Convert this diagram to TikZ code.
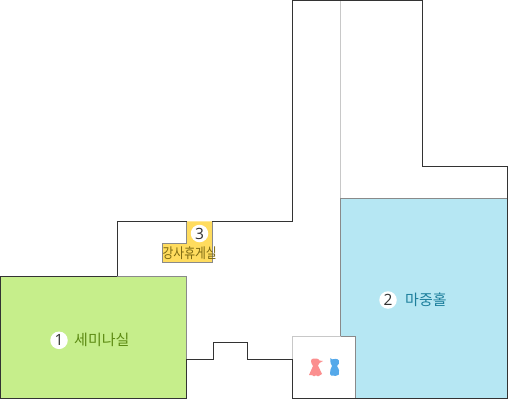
\documentclass[tikz,border=0pt]{standalone}
\usepackage{fontspec}
\setmainfont{Open Sans}
\newfontfamily\krfont{Noto Sans CJK KR}
\definecolor{wallc}{HTML}{333333}
\definecolor{edgec}{HTML}{8A8A8A}
\definecolor{lightedge}{HTML}{C8C8C8}
\definecolor{greenroom}{HTML}{C6EE8B}
\definecolor{blueroom}{HTML}{B6E7F3}
\definecolor{yellowroom}{HTML}{FFDC5E}
\definecolor{greentext}{HTML}{5C8A12}
\definecolor{bluetext}{HTML}{1D7F9C}
\definecolor{yellowtext}{HTML}{7D6A12}
\definecolor{pinkicon}{HTML}{FB8F8F}
\definecolor{blueicon}{HTML}{55A9EA}
\tikzset{
  wall/.style={draw=wallc,line width=1pt,line join=miter},
  badge/.style={circle,fill=white,inner sep=0pt,minimum size=17.5pt,text=wallc,font=\fontsize{15.5}{15.5}\selectfont},
  roomlabel/.style={inner sep=0pt,font=\krfont\fontsize{15}{15}\selectfont}
}
\begin{document}
\begin{tikzpicture}[x=1pt,y=-1pt]
\useasboundingbox (0,0) rectangle (508,400);
\fill[white] (0,0) rectangle (508,400);
% rooms
\fill[greenroom] (0.5,276.3) rectangle (186.5,398.4);
\fill[blueroom] (340.5,198.3) rectangle (507.5,398.4);
\fill[white] (292.5,336.3) rectangle (355.5,398.4);
\fill[yellowroom] (186.5,221.3) -- (212.3,221.3) -- (212.3,262.3) -- (162.7,262.3) -- (162.7,243.3) -- (186.5,243.3) -- cycle;
% inner edges
\draw[lightedge,line width=1pt] (340.5,0.5) -- (340.5,198.3);
\draw[edgec,line width=1pt] (340.5,336.3) -- (340.5,198.3) -- (507.5,198.3);
\draw[edgec,line width=1pt] (117.3,276.3) -- (186.5,276.3) -- (186.5,359.3);
\draw[edgec,line width=1pt] (186.5,221.3) -- (186.5,243.3) -- (162.7,243.3) -- (162.7,262.3) -- (212.3,262.3) -- (212.3,221.3);
\draw[lightedge,line width=1pt] (292.5,359.3) -- (292.5,336.3) -- (340.5,336.3);
\draw[edgec,line width=1pt] (340.5,336.3) -- (355.5,336.3) -- (355.5,398.4);
% outer walls
\draw[wall] (117.3,276.3) -- (117.3,221.3) -- (186.5,221.3);
\draw[wall] (212.3,221.3) -- (292.5,221.3) -- (292.5,0.5) -- (422.3,0.5) -- (422.3,166.3) -- (507.5,166.3) -- (507.5,398.4) -- (292.5,398.4) -- (292.5,359.3) -- (247.3,359.3) -- (247.3,342.3) -- (213.5,342.3) -- (213.5,359.3) -- (186.5,359.3);
\draw[wall] (117.3,276.3) -- (0.5,276.3) -- (0.5,398.4) -- (186.5,398.4) -- (186.5,359.3);
% icons
\fill[pinkicon] (311,361) .. controls (311,358.5) and (314.5,358) .. (316.5,358.5) .. controls (318,358.7) and (319,359.5) .. (319.5,360.5) -- (323,361) -- (319.5,363) .. controls (319,364.5) and (318.5,365) .. (318,365.5) -- (322,374) -- (319.5,375.5) -- (318,376.3) -- (316,375.3) -- (314,376.3) -- (312.5,375.3) -- (309,375) -- (313,366) .. controls (312,364.5) and (311,363) .. (311,361) -- cycle;
\fill[blueicon] (330.3,358) -- (332,359.3) .. controls (334,358.5) and (338,358.5) .. (338.8,360.5) .. controls (339.8,363) and (338.3,365) .. (337,366) .. controls (339,369) and (339.8,372) .. (338.8,374.5) .. controls (337,376) and (334.5,376.3) .. (334,375.7) .. controls (332,376.5) and (330.3,375.5) .. (330,374) .. controls (329.5,371) and (331,368) .. (332,366) .. controls (330.8,365) and (330.1,362) .. (330.3,358) -- cycle;
% labels
\node[badge] (b1) at (59,340.3) {1};
\node[roomlabel,text=greentext,anchor=west] (l1) at (74,339.5) {세미나실};
\node[badge] (b2) at (388,300) {2};
\node[roomlabel,text=bluetext,anchor=west] (l2) at (405,299.5) {마중홀};
\node[badge] (b3) at (199.5,233.5) {3};
\node[roomlabel,text=yellowtext,anchor=center,font=\krfont\fontsize{12}{12}\selectfont,transform shape,xscale=0.98,yscale=1.18] (l3) at (189.7,252.8) {강사휴게실};
\end{tikzpicture}
\end{document}
